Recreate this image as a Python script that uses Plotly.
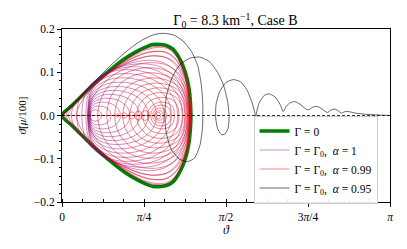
import numpy as np
import plotly.graph_objects as go

# ---------------- data ----------------
# Gamma = 0 orbit, upper half (lower half is its mirror image)
green_theta = [0, 0.1, 0.2, 0.3, 0.4, 0.5, 0.6, 0.7, 0.8, 0.87, 0.95, 1.0, 1.06, 1.11, 1.16, 1.195, 1.218, 1.23, 1.235]
green_rate = [0, 0.024, 0.048, 0.071, 0.093, 0.113, 0.131, 0.146, 0.158, 0.164, 0.164, 0.162, 0.154, 0.138, 0.114, 0.088, 0.060, 0.030, 0]

# loop shape profiles (fraction of loop width -> fraction of loop height)
profile_u = [0, 0.02, 0.05, 0.1, 0.2, 0.3, 0.4, 0.5, 0.6, 0.7, 0.8, 0.88, 0.94, 0.98, 1.0]
profile_tear = [0, 0.036, 0.09, 0.18, 0.36, 0.53, 0.68, 0.81, 0.92, 0.985, 0.99, 0.89, 0.69, 0.43, 0]
profile_d = [0, 0.45, 0.62, 0.77, 0.91, 0.98, 1.0, 0.99, 0.95, 0.88, 0.76, 0.62, 0.46, 0.27, 0]
profile_round = [0, 0.28, 0.44, 0.6, 0.8, 0.91, 0.97, 1.0, 0.99, 0.95, 0.87, 0.76, 0.6, 0.4, 0]

# Gamma = Gamma0, alpha = 1 : loops (left end, right end, height, teardrop share)
mag_left = [0.000, 0.040, 0.090, 0.140, 0.190, 0.228,
            0.245, 0.248, 0.251, 0.254, 0.257, 0.260, 0.263, 0.266, 0.269, 0.272, 0.275]
mag_right = [1.233, 1.228, 1.221, 1.213, 1.202, 1.185,
             1.160, 1.110, 1.050, 0.980, 0.905, 0.825, 0.740, 0.650, 0.560, 0.470, 0.380]
mag_height = [0.161, 0.153, 0.145, 0.136, 0.127, 0.117,
              0.106, 0.097, 0.087, 0.077, 0.067, 0.058, 0.049, 0.040, 0.031, 0.022, 0.013]
mag_tear = [1.0, 0.85, 0.7, 0.5, 0.3, 0.15,
            0, 0, 0, 0, 0, 0, 0, 0, 0, 0, 0]

# Gamma = Gamma0, alpha = 0.99 : loops
red_left = [0.002, 0.060, 0.140, 0.246, 0.342, 0.429, 0.505, 0.582, 0.649, 0.716,
            0.774, 0.822, 0.850, 0.870, 0.885, 0.895,
            0.515, 0.572, 0.639, 0.697, 0.755]
red_right = [1.234, 1.232, 1.228, 1.221, 1.216, 1.210, 1.203, 1.192, 1.176, 1.152,
             1.120, 1.076, 1.040, 1.000, 0.970, 0.945,
             0.544, 0.620, 0.697, 0.764, 0.832]
red_height = [0.158, 0.151, 0.142, 0.126, 0.112, 0.099, 0.087, 0.075, 0.064, 0.053,
              0.042, 0.031, 0.024, 0.017, 0.011, 0.007,
              0.004, 0.006, 0.008, 0.010, 0.011]
red_tear = [1.0, 0.8, 0.55, 0.3, 0.1] + [0] * 16
red_axis_theta = [0, 0.86]
red_axis_rate = [0, 0]

# Gamma = Gamma0, alpha = 0.95 : single trajectory
black_theta = [0, 0.15, 0.3, 0.45, 0.6, 0.75, 0.88, 0.97, 1.07, 1.16, 1.24, 1.3, 1.335, 1.349,
               1.345, 1.32, 1.27, 1.2, 1.12, 1.04, 0.995, 0.985, 1.0, 1.05, 1.13, 1.23, 1.32,
               1.41, 1.49, 1.55, 1.588, 1.601, 1.59, 1.56, 1.525, 1.49, 1.472, 1.475, 1.51,
               1.57, 1.64, 1.71, 1.77, 1.82, 1.848, 1.855, 1.862, 1.89, 1.94, 1.985, 2.04,
               2.09, 2.119, 2.15, 2.19, 2.23, 2.28, 2.33, 2.358, 2.4, 2.445, 2.49, 2.541,
               2.58, 2.614, 2.65, 2.678, 2.71, 2.741, 2.8, 2.9, 3.0, 3.1416]
black_rate = [0, 0.036, 0.075, 0.112, 0.145, 0.172, 0.187, 0.19, 0.186, 0.172, 0.148, 0.115, 0.07, 0.02,
              -0.03, -0.07, -0.098, -0.107, -0.1, -0.075, -0.035, 0.005, 0.045, 0.085, 0.118, 0.133, 0.135,
              0.125, 0.1, 0.068, 0.03, -0.005, -0.03, -0.043, -0.044, -0.03, -0.005, 0.025, 0.055,
              0.076, 0.083, 0.078, 0.06, 0.03, 0.005, -0.012, 0.005, 0.03, 0.047, 0.05, 0.043,
              0.025, 0.009, 0.022, 0.03, 0.032, 0.026, 0.016, 0.013, 0.019, 0.021, 0.015, 0.007,
              0.013, 0.015, 0.01, 0.0056, 0.009, 0.0093, 0.006, 0.003, 0.0015, 0]

zero_theta = [0, np.pi]
zero_rate = [0, 0]

x_tick_vals = [0, np.pi / 4, np.pi / 2, 3 * np.pi / 4, np.pi]
x_tick_text = ["0", "<i>π</i>/4", "<i>π</i>/2", "3<i>π</i>/4", "<i>π</i>"]
y_tick_vals = [-0.2, -0.1, 0.0, 0.1, 0.2]
y_tick_text = ["−0.2", "−0.1", "0.0", "0.1", "0.2"]

# ---------------- figure ----------------
SERIF = "Liberation Serif"
fig = go.Figure()

gx = list(green_theta) + list(green_theta[::-1])
gy = list(green_rate) + [-v for v in green_rate[::-1]]
fig.add_trace(go.Scatter(x=gx, y=gy, mode="lines", name="Γ = 0",
                         line=dict(color="#008000", width=3.6, shape="spline", smoothing=0.8)))

pu = np.array(profile_u)


def loop_xy(left, right, height, tear, base):
    prof = tear * np.array(profile_tear) + (1 - tear) * np.array(base)
    xs = left + (right - left) * pu
    ys = height * prof
    return (list(xs) + list(xs[::-1])), (list(ys) + list(-ys[::-1]))


for i in range(len(mag_left)):
    x, y = loop_xy(mag_left[i], mag_right[i], mag_height[i], mag_tear[i], profile_d)
    fig.add_trace(go.Scatter(x=x, y=y, mode="lines", name="Γ = Γ<sub>0</sub>,  <i>α</i> = 1",
                             legendgroup="m", showlegend=(i == 0),
                             line=dict(color="rgba(128,0,128,0.55)", width=0.8, shape="spline", smoothing=1)))

fig.add_trace(go.Scatter(x=red_axis_theta, y=red_axis_rate, mode="lines", showlegend=False,
                         legendgroup="r", line=dict(color="rgba(255,0,0,0.65)", width=0.8)))
for i in range(len(red_left)):
    x, y = loop_xy(red_left[i], red_right[i], red_height[i], red_tear[i], profile_round)
    fig.add_trace(go.Scatter(x=x, y=y, mode="lines", name="Γ = Γ<sub>0</sub>,  <i>α</i> = 0.99",
                             legendgroup="r", showlegend=(i == 0),
                             line=dict(color="rgba(255,0,0,0.62)", width=0.8, shape="spline", smoothing=1)))

fig.add_trace(go.Scatter(x=black_theta, y=black_rate, mode="lines", name="Γ = Γ<sub>0</sub>,  <i>α</i> = 0.95",
                         line=dict(color="rgba(0,0,0,0.75)", width=0.8, shape="spline", smoothing=0.6)))

fig.add_trace(go.Scatter(x=zero_theta, y=zero_rate, mode="lines", showlegend=False,
                         line=dict(color="black", width=0.8, dash="3px,2px")))

# the page body adds an 8 px offset, so the figure is 8 px smaller with 8 px less margin
fig.update_layout(
    width=399, height=241,
    margin=dict(l=54, r=17, t=21, b=47, autoexpand=False),
    paper_bgcolor="white", plot_bgcolor="white",
    font=dict(family=SERIF, size=11, color="black"),
    title=dict(text="Γ<sub>0</sub> = 8.3 km<sup>−1</sup>, Case B", x=0.57, xanchor="center",
               y=0.948, yanchor="middle", font=dict(family=SERIF, size=14)),
    showlegend=True,
    legend=dict(x=0.962, xanchor="right", y=0.5, yanchor="top",
                bgcolor="rgba(255,255,255,0.9)", bordercolor="#cccccc", borderwidth=1,
                font=dict(family=SERIF, size=11.5), itemwidth=30, tracegroupgap=0),
)
fig.update_xaxes(range=[0, np.pi], tickvals=x_tick_vals, ticktext=x_tick_text, automargin=False,
                 showgrid=False, zeroline=False, showline=True, linecolor="black", linewidth=1,
                 mirror=True, ticks="outside", ticklen=4, tickcolor="black", tickfont=dict(size=11.5),
                 minor=dict(dtick=np.pi / 16, tick0=0, ticks="inside", ticklen=3, tickcolor="black"),
                 title=dict(text="<i>ϑ</i>", standoff=2, font=dict(size=12)))
fig.update_yaxes(range=[-0.2, 0.2], tickvals=y_tick_vals, ticktext=y_tick_text, automargin=False,
                 showgrid=False, zeroline=False, showline=True, linecolor="black", linewidth=1,
                 mirror=True, ticks="outside", ticklen=4, tickcolor="black", tickfont=dict(size=11.5),
                 minor=dict(dtick=0.02, tick0=0, ticks="outside", ticklen=2.5, tickcolor="black"),
                 title=dict(text="<i>ϑ̇</i>[<i>μ</i>/100]", standoff=4, font=dict(size=11)))

fig.write_html("out.html")
